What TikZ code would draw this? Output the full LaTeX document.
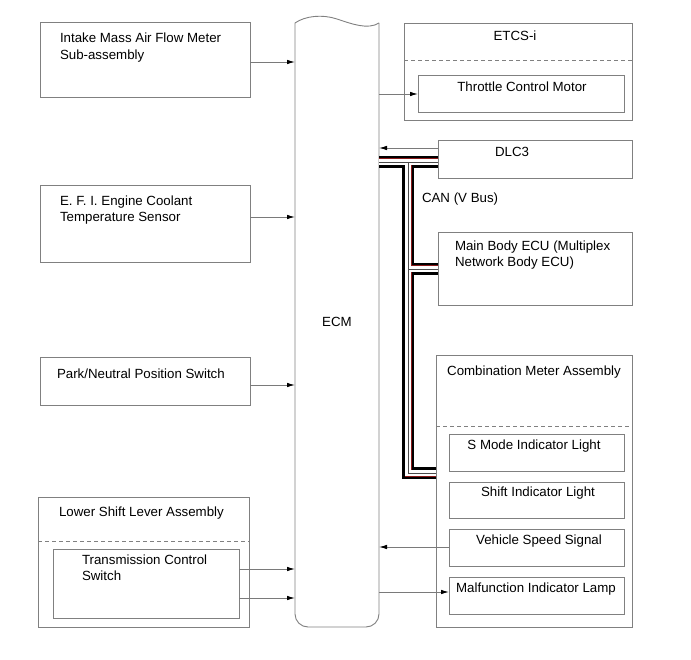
\documentclass[tikz,border=0pt]{standalone}
\usepackage{fontspec}
\setmainfont{Liberation Sans}
\usetikzlibrary{arrows.meta,calc}
\definecolor{boxgray}{HTML}{808080}
\definecolor{wiregray}{HTML}{7A7A7A}
\definecolor{busred}{HTML}{8B1A1A}
\begin{document}
\begin{tikzpicture}[x=1pt,y=-1pt,
  every node/.style={outer sep=0pt},
  box/.style={draw=boxgray,line width=0.9pt,inner sep=0pt,anchor=north west},
  sepline/.style={draw=boxgray,line width=0.8pt,dash pattern=on 4pt off 3pt},
  txt/.style={inner sep=0pt,font=\fontsize{13.3}{16.5}\selectfont,align=left,anchor=north west},
  ctxt/.style={inner sep=0pt,font=\fontsize{13.3}{16.5}\selectfont,align=center,anchor=north},
  sig/.style={draw=wiregray,line width=0.9pt,-{Latex[length=8pt,width=4.5pt,color=black]}},
  busA/.style={line width=12pt,black},
  busB/.style={line width=7.0pt,busred},
  busC/.style={line width=6.2pt,white},
  busD/.style={line width=0.8pt,black!70},
]
\fill[white] (0,0) rectangle (691,660);
\useasboundingbox (0,0) rectangle (691,660);

% ---- left boxes
\node[box,minimum width=210pt,minimum height=75pt] (maf) at (40,22) {};
\node[box,minimum width=210pt,minimum height=77pt] (efi) at (40,185) {};
\node[box,minimum width=210pt,minimum height=48pt] (pn) at (40,357) {};
\node[box,minimum width=211pt,minimum height=130pt] (lsl) at (38,497) {};
\node[box,minimum width=186pt,minimum height=69pt] (tcs) at (53,549) {};
\draw[sepline] ($(lsl.north west)+(0,44)$) -- ($(lsl.north east)+(0,44)$);

\node[txt] (mafT) at (60,33) {Intake Mass Air Flow Meter\\Sub-assembly};
\node[txt] (efiT) at (60,195.5) {E. F. I. Engine Coolant\\Temperature Sensor};
\node[txt] (pnT) at (57,368.5) {Park/Neutral Position Switch};
\node[txt] (lslT) at (59,506.5) {Lower Shift Lever Assembly};
\node[txt] (tcsT) at (82,554.5) {Transmission Control\\Switch};

% ---- ECM
\node[minimum width=84pt,minimum height=604pt,inner sep=0pt,anchor=north west] (ecm) at (295,23) {};
\draw[draw=boxgray,line width=0.9pt] (295,23) .. controls (305,16) and (322,14) .. (337,19)
   .. controls (352,24) and (368,30) .. (379,23);
\draw[draw=boxgray,line width=0.9pt,rounded corners=13pt] (379,23) -- (379,627) -- (295,627) -- (295,23);
\node[ctxt] (ecmT) at (337,317.5) {ECM};

% ---- right boxes
\node[box,minimum width=228pt,minimum height=97pt] (etcs) at (404,23) {};
\draw[sepline] ($(etcs.north west)+(0,37)$) -- ($(etcs.north east)+(0,37)$);
\node[box,minimum width=206pt,minimum height=37pt] (tcm) at (418,75) {};
\node[box,minimum width=194pt,minimum height=38pt] (dlc) at (438,140) {};
\node[box,minimum width=194pt,minimum height=73pt] (mbe) at (438,232) {};
\node[box,minimum width=196pt,minimum height=272pt] (cma) at (436,355) {};
\draw[sepline] ($(cma.north west)+(0,71)$) -- ($(cma.north east)+(0,71)$);
\node[box,minimum width=175pt,minimum height=37pt] (smi) at (449,434) {};
\node[box,minimum width=175pt,minimum height=36pt] (sil) at (449,482) {};
\node[box,minimum width=175pt,minimum height=37pt] (vss) at (449,529) {};
\node[box,minimum width=175pt,minimum height=37pt] (mil) at (449,577) {};

\node[ctxt] (etcsT) at (515,30.5) {ETCS-i};
\node[ctxt] (tcmT) at (522,81.5) {Throttle Control Motor};
\node[ctxt] (dlcT) at (512,147.5) {DLC3};
\node[txt] (canT) at (422,192.5) {CAN (V Bus)};
\node[txt] (mbeT) at (455,240.5) {Main Body ECU (Multiplex\\Network Body ECU)};
\node[ctxt] (cmaT) at (534,365.5) {Combination Meter Assembly};
\node[ctxt] (smiT) at (534,439.5) {S Mode Indicator Light};
\node[ctxt] (silT) at (538,486.5) {Shift Indicator Light};
\node[ctxt] (vssT) at (539,534.5) {Vehicle Speed Signal};
\node[ctxt] (milT) at (536,582.5) {Malfunction Indicator Lamp};

% ---- signal arrows
\coordinate (s1) at ($(maf.north east)+(0,40)$);
\coordinate (s2) at ($(efi.north east)+(0,32)$);
\coordinate (s3) at ($(pn.north east)+(0,28)$);
\coordinate (s4) at ($(tcs.north east)+(0,20)$);
\coordinate (s5) at ($(tcs.north east)+(0,49)$);
\draw[sig] (s1) -- (s1 -| ecm.west);
\draw[sig] (s2) -- (s2 -| ecm.west);
\draw[sig] (s3) -- (s3 -| ecm.west);
\draw[sig] (s4) -- (s4 -| ecm.west);
\draw[sig] (s5) -- (s5 -| ecm.west);

\coordinate (r1) at ($(tcm.north west)+(0,19)$);
\coordinate (r2) at ($(dlc.north west)+(0,8)$);
\coordinate (r3) at ($(vss.north west)+(0,18)$);
\coordinate (r4) at ($(mil.north west)+(0,15)$);
\draw[sig] (r1 -| ecm.east) -- (r1);
\draw[sig] (r2) -- (r2 -| ecm.east);
\draw[sig] (r3) -- (r3 -| ecm.east);
\draw[sig] (r4 -| ecm.east) -- (r4);

% ---- CAN bus
\coordinate (j1) at (408,162);
\coordinate (j2) at (408,269);
\coordinate (j3) at (408,473);
\foreach \st in {busA,busB,busC,busD}
  \draw[\st] (j1 -| ecm.east) -- (j1 -| dlc.west)
             (j1) -- (j3) -- (j3 -| cma.west)
             (j2) -- (j2 -| mbe.west);
\end{tikzpicture}
\end{document}
